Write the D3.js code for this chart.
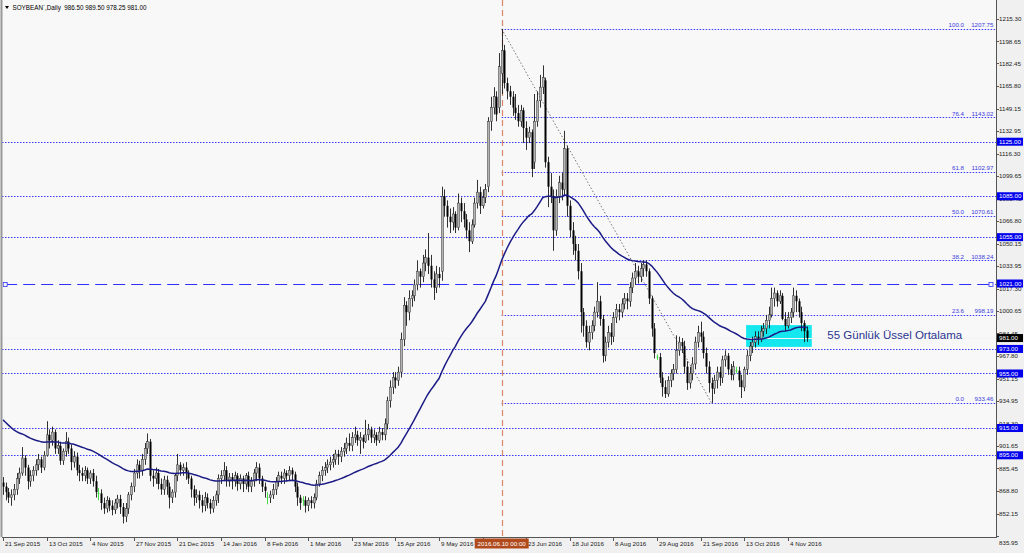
<!DOCTYPE html>
<html><head><meta charset="utf-8">
<script src="https://cdn.jsdelivr.net/npm/d3@7"></script>
<style>
html,body{margin:0;padding:0;background:#fff;}
svg{display:block;font-family:"Liberation Sans",Arial,sans-serif;}
</style></head><body>
<svg id="c" width="1024" height="553"></svg>
<script>
// ---------------- DATA ----------------
const title = "SOYBEAN`,Daily  986.50 989.50 978.25 981.00";
const open = [
875,872,868,864,866,870,878,882,893,886, 876,880,884,888,892,886,895,910,906,912,
900,902,891,898,905,900,890,894,884,882, 880,884,878,882,876,867,867,860,856,862,
858,855,860,863,857,850,856,866,872,882, 888,884,892,900,905,880,878,882,874,870,
877,872,864,868,880,888,884,886,882,878, 870,864,866,862,858,864,860,856,862,866,
878,880,884,876,879,876,880,874,878,874, 880,872,876,882,886,878,872,864,864,866,
870,876,880,878,882,880,884,881,872,864, 862,862,858,862,860,864,874,880,884,886,
888,890,892,896,894,898,900,904,902,908, 910,906,908,905,910,914,908,910,906,912,
910,918,935,945,952,950,956,980,1005,1000, 1010,1012,1020,1030,1026,1036,1040,1034,1024,1018,
1028,1030,1085,1078,1070,1066,1072,1062,1080,1074, 1068,1060,1052,1064,1080,1088,1078,1084,1092,1140,
1150,1158,1150,1175,1192,1168,1162,1158,1150,1146, 1140,1148,1135,1128,1132,1110,1140,1155,1165,1170,
1110,1092,1085,1060,1085,1095,1090,1120,1078,1060, 1050,1045,1030,1000,990,978,985,990,1000,1008,
995,968,978,985,982,996,1002,1000,1006,1010, 1008,1018,1025,1030,1026,1032,1035,1030,1010,988,
967,967,952,945,940,950,955,958,972,978, 975,960,948,955,962,978,985,982,970,960,
948,944,950,956,952,965,968,958,954,957, 957,950,945,958,968,975,978,982,980,986,
988,994,998,1010,1014,1008,1012,995,990,996, 1000,1012,1008,1000,992,986.5];
const high = [
879,875,871,870,874,882,886,901,895,888, 884,887,892,896,894,898,920,914,916,914,
906,905,900,912,908,903,898,897,888,886, 887,886,884,885,880,871,870,864,865,864,
862,863,866,866,860,860,868,875,885,892, 891,896,904,911,907,884,886,885,878,880,
880,875,870,882,896,890,889,890,884,880, 873,870,869,866,868,867,863,865,869,881,
884,890,887,882,882,883,882,881,880,882, 883,879,885,890,889,880,875,868,869,874,
879,883,883,885,884,887,886,883,875,866, 865,865,864,865,867,877,883,887,890,892,
894,896,899,899,901,904,908,911,912,916, 913,912,910,921,918,916,914,912,916,915,
922,938,950,956,956,960,985,1011,1008,1016, 1016,1024,1038,1032,1042,1046,1058,1042,1030,1034,
1033,1092,1090,1082,1076,1077,1074,1087,1084,1080, 1072,1066,1068,1084,1097,1092,1090,1094,1143,1158,
1165,1162,1190,1207.75,1196,1172,1166,1162,1160,1152, 1152,1150,1140,1136,1134,1160,1162,1174,1181,1172,
1114,1102,1090,1090,1100,1102,1133,1122,1082,1066, 1056,1050,1036,1003,994,990,994,1004,1022,1012,
998,982,990,992,1000,1006,1006,1010,1014,1014, 1022,1029,1036,1034,1036,1038,1038,1032,1012,992,
969,970,956,950,953,958,962,983,982,981, 979,964,960,967,982,990,993,986,974,964,
952,954,960,960,968,972,970,962,964,960, 960,954,960,972,978,982,986,986,990,992,
998,1004,1018,1018,1016,1016,1014,1000,1000,1003, 1018,1016,1010,1004,994,989.5];
const low = [
866,862,860,858,862,866,874,880,880,870, 872,876,880,884,882,884,894,900,902,896,
896,888,888,894,896,884,886,880,876,876, 876,874,874,872,864,862,855,852,853,854,
851,852,856,852,845,846,852,862,868,878, 878,880,888,896,876,872,874,870,866,866,
866,856,860,864,876,880,880,877,874,864, 858,860,856,853,854,856,852,853,858,860,
874,876,872,872,870,872,869,870,868,870, 868,868,872,876,874,868,864,859,860,863,
866,872,874,874,876,876,876,868,858,855, 858,853,854,856,856,862,872,876,880,882,
884,886,888,888,890,894,896,898,898,904, 902,896,900,904,906,904,904,902,904,906,
906,914,930,940,944,946,952,975,990,994, 1004,1008,1016,1018,1022,1030,1028,1018,1009,1014,
1018,1023,1070,1062,1058,1060,1058,1060,1066,1062, 1054,1044,1050,1062,1076,1072,1076,1080,1088,1133,
1145,1140,1146,1160,1164,1156,1152,1144,1141,1136, 1136,1124,1119,1124,1099,1105,1136,1150,1160,1106,
1077,1080,1045,1056,1080,1082,1086,1070,1055,1042, 1038,1024,985,982,974,972,980,986,996,990,
963,964,974,976,978,992,994,996,1002,1002, 1004,1014,1020,1021,1022,1026,1026,1006,982,966,
965,948,938,937,938,945,950,955,968,970, 955,943,944,950,958,974,978,966,955,941,
933.46,940,944,946,948,960,954,950,950,955, 945,937,942,954,964,970,974,976,978,982,
984,988,996,1004,1004,1006,994,986,988,992, 996,1000,996,986,978,978.25];
const close = [
872,868,864,866,870,878,882,893,886,876, 880,884,888,892,886,895,910,906,912,900,
902,891,898,905,900,890,894,884,882,880, 884,878,882,876,868,867,860,856,862,858,
855,860,863,857,850,856,866,872,882,888, 884,892,900,905,880,878,882,874,870,877,
872,864,868,880,888,884,886,882,878,870, 864,866,862,858,864,860,856,862,866,878,
880,884,876,879,876,880,874,878,874,880, 872,876,882,886,878,872,869,864,866,870,
876,880,878,882,880,884,881,872,864,860, 862,858,862,860,864,874,880,884,886,888,
890,892,896,894,898,900,904,902,908,910, 906,908,905,910,914,908,910,906,912,910,
918,935,945,952,950,956,980,1005,1000,1010, 1012,1020,1030,1026,1036,1040,1034,1024,1018,1028,
1025,1085,1078,1070,1066,1072,1062,1080,1074,1068, 1060,1052,1064,1080,1088,1078,1084,1090,1140,1150,
1158,1145,1180,1192,1168,1162,1158,1150,1146,1140, 1148,1135,1128,1132,1105,1140,1155,1165,1172,1110,
1092,1085,1060,1085,1095,1090,1120,1078,1060,1050, 1045,1030,1000,990,978,985,990,1000,1008,995,
968,978,985,982,996,1002,1000,1006,1010,1008, 1018,1025,1030,1026,1032,1035,1030,1010,988,970,
967,952,945,940,950,955,958,972,978,975, 960,948,955,962,978,985,982,970,960,948,
944,950,956,952,965,968,958,954,960,957, 950,945,958,968,975,978,982,980,986,988,
994,998,1010,1014,1008,1012,995,990,996,1000, 1012,1008,1000,992,986,981];
const emaPeriod = 55;
const emaStart = 921;           // EMA value at first visible bar
const dateLabels = ["21 Sep 2015","13 Oct 2015","4 Nov 2015","27 Nov 2015","21 Dec 2015","14 Jan 2016",
  "8 Feb 2016","1 Mar 2016","23 Mar 2016","15 Apr 2016","9 May 2016","1 Jun 2016","23 Jun 2016",
  "18 Jul 2016","8 Aug 2016","29 Aug 2016","21 Sep 2016","13 Oct 2016","4 Nov 2016"];
const dateLabelStep = 16;
const priceTicks = [1215.30,1198.65,1182.45,1165.80,1149.15,1132.95,1116.30,1099.65,1083.45,1066.80,
  1050.15,1033.95,1017.30,1000.65,984.45,967.80,951.15,934.95,918.30,901.65,885.45,868.80,852.15,835.95];
const hLevels = [1125,1085,1055,973,955,915,895];
const keyLevel = 1021;
const fibLevels = [0,23.6,38.2,50.0,61.8,76.4,100.0];
const fibFromBar = 183, fibHigh = 1207.75, fibToBar = 260, fibLow = 933.46;
const markerBar = 183, markerLabel = "2016.06.10 00:00";
const lastPrice = 981.00;
const boxBars = [272.7, 296.8], boxPrices = [974.5, 990.5];
const note = "55 Günlük Üssel Ortalama";

// ---------------- LAYOUT ----------------
const W = 1024, H = 553;
const plotL = 2, plotR = 996, plotT = 0, plotB = 537;
const svg = d3.select("#c");
const x = d3.scaleLinear().domain([0, 364.4]).range([3, 996]);
const y = d3.scaleLinear().domain([835.95, 1215.30]).range([535.8, 18.6]);
const n = close.length;

svg.append("rect").attr("width", W).attr("height", H).attr("fill", "#f0f0f0");
svg.append("rect").attr("x", plotL).attr("y", plotT).attr("width", plotR - plotL).attr("height", plotB - plotT).attr("fill", "#f8f8f8");

const clip = svg.append("clipPath").attr("id", "pc").append("rect")
  .attr("x", plotL).attr("y", plotT).attr("width", plotR - plotL).attr("height", plotB - plotT);
const g = svg.append("g").attr("clip-path", "url(#pc)");

const blue = "#3a3aff";
// horizontal dotted levels
g.selectAll(".hl").data(hLevels).join("line")
  .attr("x1", plotL).attr("x2", plotR).attr("y1", d => Math.round(y(d)) + 0.5).attr("y2", d => Math.round(y(d)) + 0.5)
  .attr("stroke", blue).attr("stroke-width", 1).attr("stroke-dasharray", "1.5,1.5");
// key level long dash
g.append("line").attr("x1", x(0.8)).attr("x2", plotR).attr("y1", Math.round(y(keyLevel)) + 0.5).attr("y2", Math.round(y(keyLevel)) + 0.5)
  .attr("stroke", "#3030ff").attr("stroke-width", 1).attr("stroke-dasharray", "12,6");
[x(0.8), plotR - 5].forEach(px => g.append("rect").attr("x", px - 2).attr("y", Math.round(y(keyLevel)) - 1.5)
  .attr("width", 4).attr("height", 4).attr("fill", "#f8f8f8").attr("stroke", "#3030ff").attr("stroke-width", 0.8));

// fib levels
const fibY = p => fibLow + (fibHigh - fibLow) * p / 100;
g.selectAll(".fib").data(fibLevels).join("line")
  .attr("x1", x(fibFromBar)).attr("x2", plotR)
  .attr("y1", d => Math.round(y(fibY(d))) + 0.5).attr("y2", d => Math.round(y(fibY(d))) + 0.5)
  .attr("stroke", blue).attr("stroke-width", 1).attr("stroke-dasharray", "1.5,1.5");
g.selectAll(".fibt1").data(fibLevels).join("text")
  .attr("x", 964).attr("y", d => y(fibY(d)) - 1.5).attr("text-anchor", "end")
  .attr("font-size", 6.2).attr("fill", "#3a3ae0").text(d => d.toFixed(1));
g.selectAll(".fibt2").data(fibLevels).join("text")
  .attr("x", 993.5).attr("y", d => y(fibY(d)) - 1.5).attr("text-anchor", "end")
  .attr("font-size", 6.2).attr("fill", "#3a3ae0").text(d => fibY(d).toFixed(2));

// vertical marker line
g.append("line").attr("x1", Math.round(x(markerBar)) + 0.5).attr("x2", Math.round(x(markerBar)) + 0.5)
  .attr("y1", plotT).attr("y2", plotB).attr("stroke", "#d9886a").attr("stroke-width", 1.2).attr("stroke-dasharray", "6,4");

// cyan box
g.append("rect").attr("x", x(boxBars[0])).attr("y", y(boxPrices[1]))
  .attr("width", x(boxBars[1]) - x(boxBars[0])).attr("height", y(boxPrices[0]) - y(boxPrices[1]))
  .attr("fill", "#14e8ee");
// bid line (light)
g.append("line").attr("x1", plotL).attr("x2", plotR).attr("y1", Math.round(y(lastPrice)) + 0.5).attr("y2", Math.round(y(lastPrice)) + 0.5)
  .attr("stroke", "#f4f4f4").attr("stroke-width", 1);

// fib trend line
g.append("line").attr("x1", x(fibFromBar)).attr("y1", y(fibHigh)).attr("x2", x(fibToBar)).attr("y2", y(fibLow))
  .attr("stroke", "#666").attr("stroke-width", 0.9).attr("stroke-dasharray", "1.5,2");

// candles
const bars = d3.range(n);
const cg = g.append("g");
bars.forEach(i => {
  const cx = Math.round(x(i)) + 0.5;
  const o = open[i], c = close[i];
  const doji = o === c;
  cg.append("line").attr("x1", cx).attr("x2", cx).attr("y1", y(high[i])).attr("y2", y(low[i]))
    .attr("stroke", doji ? "#33dd33" : "#1a1a1a").attr("stroke-width", 0.9);
  if (doji) {
    cg.append("line").attr("x1", cx - 1).attr("x2", cx + 1).attr("y1", y(c)).attr("y2", y(c)).attr("stroke", "#33dd33").attr("stroke-width", 0.9);
  } else {
    const top = y(Math.max(o, c)), bot = y(Math.min(o, c));
    cg.append("rect").attr("x", cx - 1).attr("y", top).attr("width", 2).attr("height", Math.max(0.8, bot - top))
      .attr("fill", c > o ? "#b4b4b4" : "#000").attr("stroke", c > o ? "#333" : "none").attr("stroke-width", 0.5);
  }
});

// EMA
const k = 2 / (emaPeriod + 1);
const ema = [];
close.forEach((c, i) => { ema.push(i === 0 ? emaStart : ema[i - 1] + k * (c - ema[i - 1])); });
g.append("path").datum(ema).attr("fill", "none").attr("stroke", "#1c1c86").attr("stroke-width", 1.5)
  .attr("d", d3.line().x((d, i) => x(i)).y(d => y(d)));

// annotation
g.append("text").attr("x", x(302.5)).attr("y", y(980.5)).attr("font-size", 11.5).attr("fill", "#2a3590")
  .attr("font-family", "'Liberation Sans',Arial,sans-serif").text(note);

// frame
svg.append("line").attr("x1", plotR + 0.5).attr("x2", plotR + 0.5).attr("y1", 0).attr("y2", plotB + 1).attr("stroke", "#555");
svg.append("line").attr("x1", plotL).attr("x2", plotR + 1).attr("y1", plotB + 0.5).attr("y2", plotB + 0.5).attr("stroke", "#555");
svg.append("line").attr("x1", 1.5).attr("x2", 1.5).attr("y1", 0).attr("y2", plotB).attr("stroke", "#999").attr("stroke-width", 2);

// title
svg.append("path").attr("d", "M5,6 L9,6 L7,9 Z").attr("fill", "#000");
svg.append("text").attr("x", 12.5).attr("y", 9.5).attr("font-size", 6.3).attr("fill", "#000").attr("xml:space", "preserve").text(title);

// y axis
const ya = svg.append("g");
priceTicks.forEach(p => {
  let py = y(p);
  const dy = py > 530 ? 7 : 0;
  ya.append("line").attr("x1", plotR).attr("x2", plotR + 3).attr("y1", Math.round(py) + 0.5).attr("y2", Math.round(py) + 0.5).attr("stroke", "#555");
  ya.append("text").attr("x", 999).attr("y", py + dy + 2.2).attr("font-size", 6.2).attr("fill", "#222").text(p.toFixed(2));
});
// level boxes
hLevels.concat([keyLevel]).forEach(p => {
  const py = y(p);
  ya.append("rect").attr("x", 997).attr("y", py - 4).attr("width", 26).attr("height", 8).attr("fill", "#0000ee");
  ya.append("text").attr("x", 999).attr("y", py + 2.2).attr("font-size", 6.2).attr("fill", "#fff").text(p.toFixed(2));
});
{
  const py = y(lastPrice);
  ya.append("rect").attr("x", 997).attr("y", py - 4).attr("width", 26).attr("height", 8).attr("fill", "#000");
  ya.append("text").attr("x", 999).attr("y", py + 2.2).attr("font-size", 6.2).attr("fill", "#fff").text(lastPrice.toFixed(2));
}

// x axis
const xa = svg.append("g");
dateLabels.forEach((lab, j) => {
  const px = Math.round(x(j * dateLabelStep)) + 0.5;
  xa.append("line").attr("x1", px).attr("x2", px).attr("y1", plotB).attr("y2", plotB + 4).attr("stroke", "#555");
  xa.append("text").attr("x", px + 1.5).attr("y", 546).attr("font-size", 6.2).attr("fill", "#222").text(lab);
});
{
  const px = x(markerBar);
  xa.append("rect").attr("x", px - 27).attr("y", 538.5).attr("width", 54).attr("height", 10).attr("fill", "#b04a1c");
  xa.append("text").attr("x", px).attr("y", 546).attr("text-anchor", "middle").attr("font-size", 6.2).attr("fill", "#fff").text(markerLabel);
}
</script>
</body></html>
